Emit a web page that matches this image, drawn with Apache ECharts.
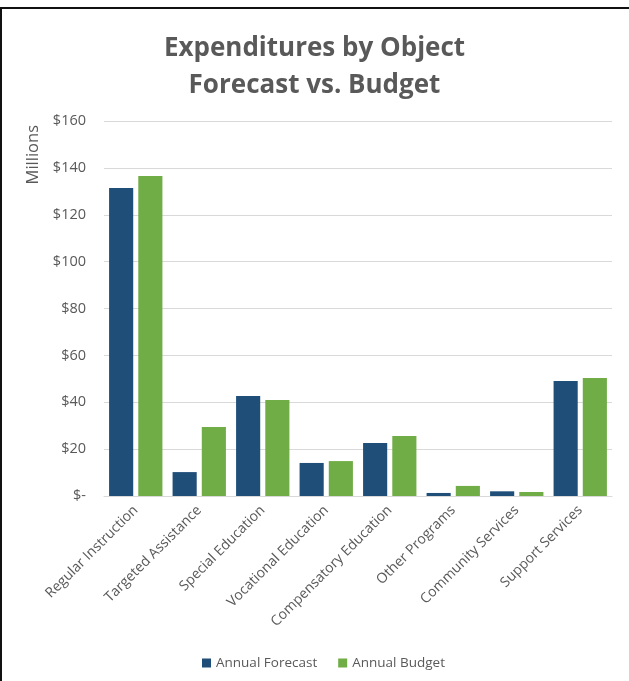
<!DOCTYPE html>
<html><head><meta charset="utf-8">
<script src="https://cdn.jsdelivr.net/npm/echarts@6/dist/echarts.min.js"></script>
<style>
html,body{margin:0;padding:0;background:#fff;}
#frame{position:absolute;left:0;top:7px;width:629px;height:674px;border-top:2px solid #111;border-left:2px solid #111;box-sizing:border-box;}
#c{position:absolute;left:0;top:0;width:629px;height:681px;}
</style></head>
<body>
<div id="frame"></div>
<div id="c"></div>
<script>
const categories = ['Regular Instruction','Targeted Assistance','Special Education','Vocational Education','Compensatory Education','Other Programs','Community Services','Support Services'];
const forecast = [131.4, 10.2, 42.7, 14.1, 22.6, 1.3, 2.0, 49.1];
const budget = [136.5, 29.4, 41.0, 14.9, 25.6, 4.3, 1.7, 50.3];
const yTicks = [0, 20, 40, 60, 80, 100, 120, 140, 160];

const chart = echarts.init(document.getElementById('c'));
const font = 'Open Sans, Noto Sans, sans-serif';
chart.setOption({
  animation:false,
  title:{text:'Expenditures by Object\nForecast vs. Budget', left:'center', top:25,
    textStyle:{fontFamily:font, fontSize:26, fontWeight:'bold', color:'#595959', lineHeight:37}},
  grid:{left:104, right:17, top:121, bottom:185},
  legend:{top:651, left:197, itemWidth:9, itemHeight:9, itemGap:21, icon:'rect',
    textStyle:{fontFamily:font, fontSize:13.5, color:'#595959'}},
  xAxis:{type:'category', data:categories,
    axisLine:{lineStyle:{color:'#d9d9d9', width:1}}, axisTick:{show:false},
    axisLabel:{rotate:45, interval:0, fontFamily:font, fontSize:14, color:'#595959', margin:12}},
  yAxis:{type:'value', min:yTicks[0], max:yTicks[yTicks.length-1], interval:20,
    axisLine:{show:false}, axisTick:{show:false},
    splitLine:{lineStyle:{color:'#d9d9d9', width:1}},
    axisLabel:{fontFamily:font, fontSize:14.5, color:'#595959', margin:18,
      formatter:v=> v===0 ? '$-' : '$'+v}},
  graphic:[{type:'text', left:25, top:125, rotation:Math.PI/2,
    style:{text:'Millions', fontFamily:font, fontSize:16.5, fill:'#595959'}}],
  series:[
    {name:'Annual Forecast', type:'bar', data:forecast, itemStyle:{color:'#1F4E79'}, barGap:'21%', barCategoryGap:'16%'},
    {name:'Annual Budget', type:'bar', data:budget, itemStyle:{color:'#70AD47'}}
  ]
});
</script>
</body></html>
